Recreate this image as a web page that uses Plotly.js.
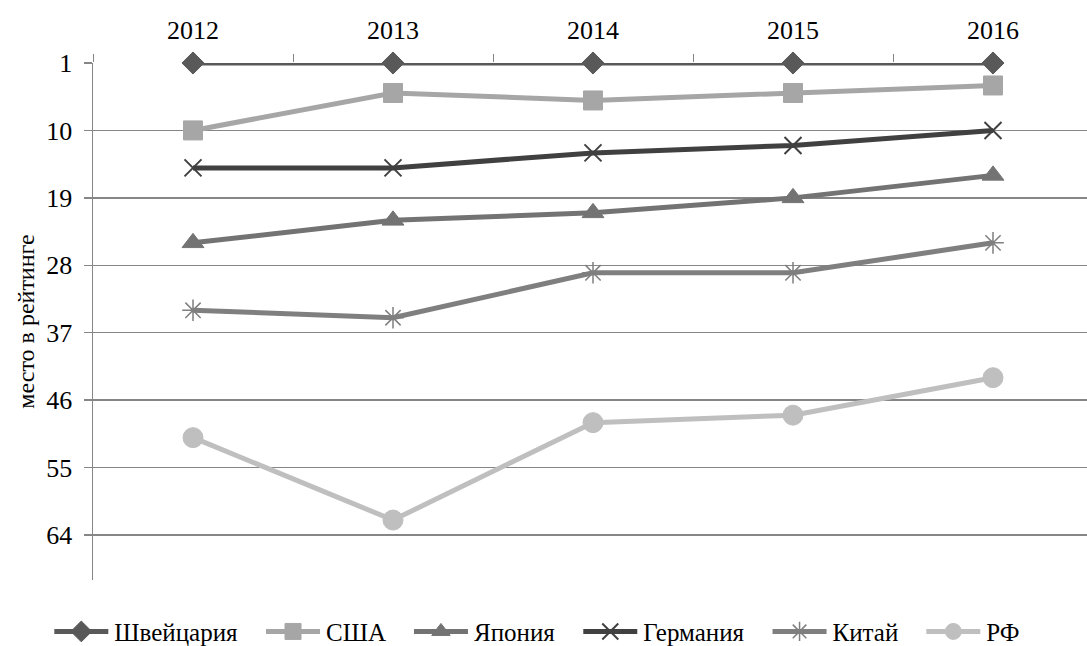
<!DOCTYPE html>
<html>
<head>
<meta charset="utf-8">
<script src="https://cdn.plot.ly/plotly-3.0.1.min.js"></script>
<style>html,body{margin:0;padding:0;background:#fff;}#chart{width:1087px;height:646px;}</style>
</head>
<body>
<div id="chart"></div>
<script>
const years = ['2012', '2013', '2014', '2015', '2016'];
const switzerland = [1, 1, 1, 1, 1];
const usa = [10, 5, 6, 5, 4];
const japan = [25, 22, 21, 19, 16];
const germany = [15, 15, 13, 12, 10];
const china = [34, 35, 29, 29, 25];
const russia = [51, 62, 49, 48, 43];
const yTicks = [1, 10, 19, 28, 37, 46, 55, 64];

const font = 'Liberation Serif';
function tr(name, y, color, symbol, size, lw) {
  return {
    type: 'scatter', mode: 'lines+markers', name: name, x: years, y: y,
    line: {color: color, width: 5},
    marker: {color: color, symbol: symbol, size: size, line: {color: color, width: lw || 1}},
    cliponaxis: false
  };
}
const data = [
  tr('Швейцария', switzerland, '#595959', 'diamond', 17),
  tr('США', usa, '#a6a6a6', 'square', 19),
  tr('Япония', japan, '#737373', 'triangle-up', 19),
  tr('Германия', germany, '#404040', 'x-thin', 17, 2),
  tr('Китай', china, '#7f7f7f', 'asterisk', 18, 1.5),
  tr('РФ', russia, '#bfbfbf', 'circle', 20)
];
const layout = {
  width: 1087, height: 646,
  margin: {l: 93, r: 0, t: 63, b: 66, autoexpand: false},
  paper_bgcolor: '#fff', plot_bgcolor: '#fff',
  font: {family: font, size: 25, color: '#000'},
  showlegend: true,
  legend: {orientation: 'h', x: 0.448, xanchor: 'center', y: -0.1, yanchor: 'middle', font: {size: 25, family: font, color: '#000'}, traceorder: 'normal', itemwidth: 53},
  xaxis: {
    type: 'category', side: 'top', range: [-0.5, 4.47], automargin: false,
    showgrid: false, showline: false, zeroline: false,
    ticks: 'outside', tickson: 'boundaries', ticklen: 8, tickcolor: '#868686', tickwidth: 1,
    ticklabelstandoff: 18,
    tickfont: {size: 26, family: font, color: '#000'}
  },
  yaxis: {
    range: [70, 1], tickvals: yTicks, ticktext: yTicks.map(String), automargin: false,
    showgrid: true, gridcolor: '#868686', gridwidth: 1.5,
    showline: true, linecolor: '#868686', linewidth: 1.5, zeroline: false,
    ticks: 'outside', ticklen: 8, tickcolor: '#868686', tickwidth: 1.5,
    ticklabelstandoff: 6,
    tickfont: {size: 26, family: font, color: '#000'},
    title: {text: 'место в рейтинге', font: {size: 24, family: font, color: '#000'}, standoff: 5}
  }
};
Plotly.newPlot('chart', data, layout, {displayModeBar: false, staticPlot: true}).then(function (gd) {
  // legend key styling: longer line samples and wider spacing between entries
  const extraGap = 20;
  gd.querySelectorAll('.legend [clip-path]').forEach(function (e) { e.removeAttribute('clip-path'); });
  const groups = gd.querySelectorAll('.legend .traces');
  const n = groups.length;
  groups.forEach(function (t, i) {
    t.querySelectorAll('.legendlines path').forEach(function (p) { p.setAttribute('d', 'M3,0h54'); });
    t.querySelectorAll('.legendpoints path.scatterpts').forEach(function (p) {
      p.setAttribute('transform', 'translate(30,0)');
    });
    const m = /translate\(\s*([-\d.]+)[ ,]+([-\d.]+)\s*\)/.exec(t.getAttribute('transform') || '');
    if (m) {
      const nx = parseFloat(m[1]) + i * extraGap - (n - 1) * extraGap / 2;
      t.setAttribute('transform', 'translate(' + nx + ',' + m[2] + ')');
    }
  });
});
</script>
</body>
</html>
